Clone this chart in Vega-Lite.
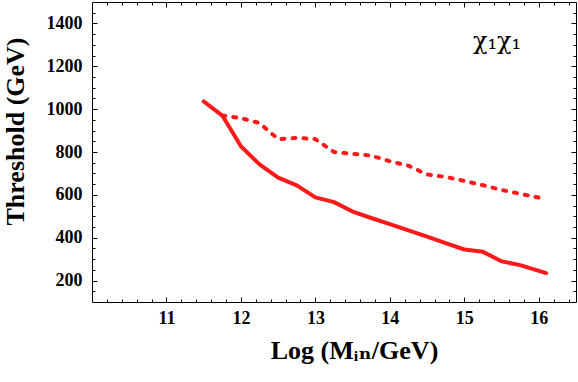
{
  "$schema": "https://vega.github.io/schema/vega-lite/v6.json",
  "width": 484,
  "height": 300,
  "autosize": {"type": "none"},
  "padding": {"left": 92, "top": 2, "right": 2, "bottom": 80},
  "background": "white",
  "config": {
    "view": {"stroke": "black", "strokeWidth": 1},
    "axis": {
      "domain": false,
      "ticks": false,
      "gridColor": "black",
      "gridOpacity": 1,
      "gridWidth": 1,
      "labelFont": "Liberation Serif",
      "labelFontWeight": "bold",
      "labelFontSize": 18,
      "labelColor": "black",
      "titleFont": "Liberation Serif, DejaVu Serif",
      "titleFontWeight": "bold",
      "titleFontSize": 26,
      "titleColor": "black",
      "labelFlush": false,
      "labelOverlap": false
    }
  },
  "datasets": {
    "solid": [
      {"logM": 11.5, "thr": 1036},
      {"logM": 11.75, "thr": 970},
      {"logM": 12.0, "thr": 827},
      {"logM": 12.25, "thr": 742},
      {"logM": 12.5, "thr": 680},
      {"logM": 12.75, "thr": 644},
      {"logM": 13.0, "thr": 588},
      {"logM": 13.25, "thr": 566},
      {"logM": 13.5, "thr": 522},
      {"logM": 13.75, "thr": 492},
      {"logM": 14.0, "thr": 463},
      {"logM": 14.25, "thr": 434},
      {"logM": 14.5, "thr": 405},
      {"logM": 14.75, "thr": 375},
      {"logM": 15.0, "thr": 345},
      {"logM": 15.25, "thr": 334},
      {"logM": 15.5, "thr": 290},
      {"logM": 15.75, "thr": 272},
      {"logM": 16.1, "thr": 235}
    ],
    "dashed": [
      {"logM": 11.75, "thr": 970},
      {"logM": 12.0, "thr": 958},
      {"logM": 12.25, "thr": 935},
      {"logM": 12.5, "thr": 860},
      {"logM": 12.75, "thr": 866},
      {"logM": 13.0, "thr": 860},
      {"logM": 13.25, "thr": 800},
      {"logM": 13.5, "thr": 791},
      {"logM": 13.75, "thr": 783},
      {"logM": 14.0, "thr": 757},
      {"logM": 14.25, "thr": 736},
      {"logM": 14.5, "thr": 695},
      {"logM": 14.75, "thr": 684},
      {"logM": 15.0, "thr": 665},
      {"logM": 15.25, "thr": 645},
      {"logM": 15.5, "thr": 623},
      {"logM": 15.75, "thr": 605},
      {"logM": 16.1, "thr": 580}
    ],
    "label": [
      {"logM": 15.44, "thr": 1313, "text": "χ₁χ₁"}
    ]
  },
  "layer": [
    {
      "data": {"name": "solid"},
      "mark": {"type": "line", "color": "#ff1a1a", "strokeWidth": 4, "strokeJoin": "round", "strokeCap": "round"},
      "encoding": {
        "x": {
          "field": "logM", "type": "quantitative",
          "scale": {"domain": [10, 16.5], "nice": false, "zero": false},
          "axis": {
            "orient": "bottom",
            "grid": true,
            "gridDash": [5, 290, 5],
            "title": "Log (Mᵢₙ/GeV)",
            "titlePadding": 10,
            "titleX": 262,
            "values": [11, 12, 13, 14, 15, 16],
            "format": "d",
            "labelPadding": 7
          }
        },
        "y": {
          "field": "thr", "type": "quantitative",
          "scale": {"domain": [100, 1500], "nice": false, "zero": false},
          "axis": {
            "orient": "left",
            "grid": true,
            "gridDash": [5, 474, 5],
            "title": "Threshold (GeV)",
            "titlePadding": 18,
            "titleY": 129,
            "values": [200, 400, 600, 800, 1000, 1200, 1400],
            "format": "d",
            "labelPadding": 10
          }
        }
      }
    },
    {
      "data": {"name": "dashed"},
      "mark": {"type": "line", "color": "#ff1a1a", "strokeWidth": 4, "strokeDash": [3, 8], "strokeCap": "round"},
      "encoding": {
        "x": {
          "field": "logM", "type": "quantitative",
          "scale": {"domain": [10, 16.5], "nice": false, "zero": false},
          "axis": {
            "orient": "top",
            "grid": true,
            "gridDash": [3, 294, 3],
            "title": null,
            "labels": false,
            "values": [10.2, 10.4, 10.6, 10.8, 11.2, 11.4, 11.6, 11.8, 12.2, 12.4, 12.6, 12.8, 13.2, 13.4, 13.6, 13.8, 14.2, 14.4, 14.6, 14.8, 15.2, 15.4, 15.6, 15.8, 16.2, 16.4]
          }
        },
        "y": {
          "field": "thr", "type": "quantitative",
          "scale": {"domain": [100, 1500], "nice": false, "zero": false},
          "axis": {
            "orient": "right",
            "grid": true,
            "gridDash": [3, 478, 3],
            "title": null,
            "labels": false,
            "values": [150, 250, 300, 350, 450, 500, 550, 650, 700, 750, 850, 900, 950, 1050, 1100, 1150, 1250, 1300, 1350, 1450]
          }
        }
      }
    },
    {
      "data": {"name": "label"},
      "mark": {"type": "text", "font": "DejaVu Serif", "fontSize": 24, "align": "center", "baseline": "middle", "color": "black"},
      "encoding": {
        "x": {"field": "logM", "type": "quantitative", "axis": null},
        "y": {"field": "thr", "type": "quantitative", "axis": null},
        "text": {"field": "text"}
      }
    }
  ],
  "resolve": {"axis": {"x": "independent", "y": "independent"}}
}
